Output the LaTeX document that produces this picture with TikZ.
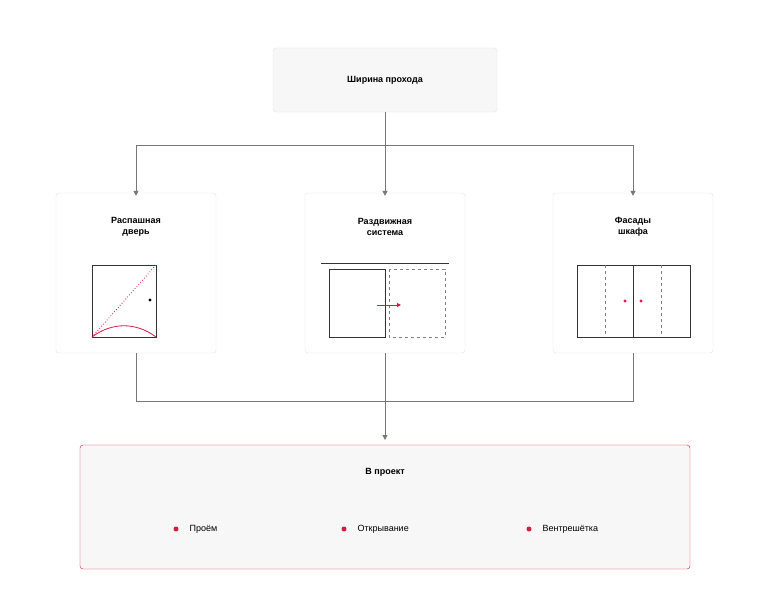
\documentclass[tikz,border=0pt]{standalone}
\usepackage{fontspec}
\setmainfont{Liberation Sans}
\usetikzlibrary{arrows.meta}
\definecolor{accent}{HTML}{D81B45}
\definecolor{boxline}{HTML}{E2E2E2}
\definecolor{boxfill}{HTML}{F7F7F7}
\definecolor{wire}{HTML}{777777}
\tikzset{
  card/.style={draw=boxline, fill=white, rounded corners=3pt},
  head/.style={font=\bfseries\small, align=center},
  wire/.style={draw=wire, line width=0.8pt},
  warrow/.style={wire, -{Triangle[length=5pt,width=5pt]}},
  icon/.style={draw=black!80, line width=0.9pt},
  item/.style={font=\small, anchor=west},
}
\begin{document}
\begin{tikzpicture}[x=1pt,y=-1pt]
\useasboundingbox (0,0) rectangle (770,610);
% top
\node (width) [card, fill=boxfill, minimum width=224pt, minimum height=64pt, head] at (385,80) {Ширина прохода};
% three cards
\node (swing) [card, minimum width=160pt, minimum height=160pt] at (136,273) {};
\node (slide) [card, minimum width=160pt, minimum height=160pt] at (385,273) {};
\node (front) [card, minimum width=160pt, minimum height=160pt] at (633,273) {};
\node (swingT) [head] at (136,227) {Распашная\\дверь};
\node (slideT) [head] at (385,227) {Раздвижная\\система};
\node (frontT) [head] at (633,227) {Фасады\\шкафа};
% project
\node (proj) [draw=accent, fill=boxfill, rounded corners=3pt, minimum width=610pt, minimum height=124pt] at (385,507) {};
\node (projT) [head] at (385,472) {В проект};
\coordinate (split) at (385,145);
\coordinate (join) at (385,401);
\coordinate (tip) at (385,440);
% connectors
\draw[wire] (width.south) -- (split);
\draw[warrow] (split) -| ([yshift=-3pt]swing.north);
\draw[warrow] (split) -- ([yshift=-3pt]slide.north);
\draw[warrow] (split) -| ([yshift=-3pt]front.north);
\draw[wire] (swing.south) |- (join);
\draw[wire] (front.south) |- (join);
\draw[warrow] (slide.south) -- (tip);
% swing icon
\draw[icon] (92,265) rectangle (156,337);
\draw[accent, line width=0.8pt, dotted] (92,337) -- (156,265);
\draw[accent, line width=0.8pt] (92,337) .. controls (112,322) and (136,322) .. (156,337);
\fill (150,300) circle (1.6pt);
% slide icon
\draw[icon] (321,263) -- (449,263);
\draw[icon] (329,269) rectangle (385,337);
\draw[gray, line width=0.9pt, dashed] (389,269) rectangle (445,337);
\draw[accent, line width=0.9pt, -{Triangle[length=4pt,width=4pt]}] (377,305) -- (401,305);
% front icon
\draw[icon] (577,265) rectangle (690,337);
\draw[icon] (633,265) -- (633,337);
\draw[gray, line width=0.5pt, dashed] (605,265) -- (605,337);
\draw[gray, line width=0.5pt, dashed] (661,265) -- (661,337);
\fill[accent] (625,301) circle (1.6pt) (641,301) circle (1.6pt);
% items
\foreach \x/\t in {176/Проём, 344/Открывание, 529/Вентрешётка} {
  \fill[accent] (\x,529) circle (2.5pt);
  \node[item] at (\x+10,529) {\t};
}
\end{tikzpicture}
\end{document}
